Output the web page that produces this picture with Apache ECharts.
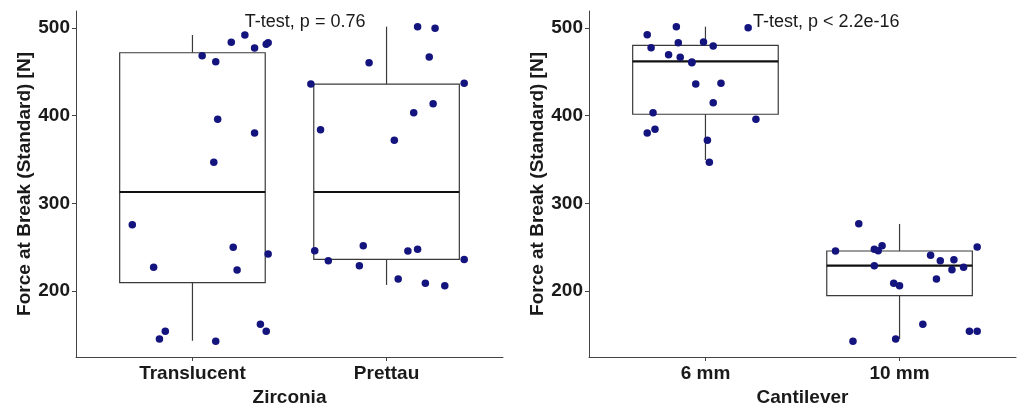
<!DOCTYPE html>
<html>
<head>
<meta charset="utf-8">
<script src="https://cdn.jsdelivr.net/npm/echarts@6/dist/echarts.min.js"></script>
<style>
html,body{margin:0;padding:0;background:#fff;}
#main{width:1018px;height:405px;}
</style>
</head>
<body>
<div id="main"></div>
<script>
// groups of each panel
var zirconiaCats = ['Translucent', 'Prettau'];
var cantileverCats = ['6 mm', '10 mm'];

// box stats: [lower whisker, Q1, median, Q3, upper whisker]
var translucentBox = [143.2, 209.5, 312.9, 471.8, 492];
var prettauBox = [206.9, 236, 312.9, 436, 501.5];
var mm6Box = [349.4, 401.6, 462, 480.3, 501.5];
var mm10Box = [145.3, 194.6, 228.9, 245.6, 276.5];

// raw points (force) with the horizontal jitter seen in the picture
var translucentVals = [468.4, 461.6, 483.7, 492, 477.2, 481.4, 483.3, 395.9, 380.2, 346.8, 275.6, 249.8, 227, 224, 242.2, 145.3, 154, 142.6, 162, 154];
var translucentJit = [0.05, 0.12, 0.20, 0.27, 0.32, 0.38, 0.39, 0.13, 0.32, 0.11, -0.31, 0.21, -0.20, 0.23, 0.39, -0.17, -0.14, 0.12, 0.35, 0.38];
var prettauVals = [501.5, 499.6, 460.4, 467, 437, 413.7, 403.4, 371.9, 251.7, 245.6, 247.5, 236, 228.9, 213.7, 208.8, 206.1, 436.1, 383.9, 246, 234.6];
var prettauJit = [0.16, 0.25, -0.09, 0.22, 0.40, 0.24, 0.14, 0.04, -0.12, 0.11, 0.16, 0.40, -0.14, 0.06, 0.20, 0.30, -0.39, -0.34, -0.37, -0.30];
var mm6Vals = [492.4, 501.5, 477.5, 483.2, 484, 479.5, 469.6, 466.6, 461.2, 460.4, 436.1, 436.9, 414.8, 403.4, 380.2, 384.4, 371.9, 346.8, 395.9, 500.3];
var mm6Jit = [-0.30, -0.15, -0.28, -0.14, -0.01, 0.04, -0.19, -0.13, -0.07, -0.07, -0.05, 0.08, 0.04, -0.27, -0.30, -0.26, 0.01, 0.02, 0.26, 0.22];
var mm10Vals = [276.8, 245.6, 247.5, 246, 251.7, 228.9, 240.7, 234.6, 235.7, 224.3, 227, 250.1, 213.7, 208.8, 206.1, 162, 154, 154, 142.6, 145.3];
var mm10Jit = [-0.21, -0.33, -0.13, -0.11, -0.09, -0.13, 0.16, 0.21, 0.28, 0.27, 0.33, 0.40, 0.19, -0.03, 0.00, 0.12, 0.36, 0.40, -0.24, -0.02];

var yTicks = [200, 300, 400, 500];
var testLabels = ['T-test, p = 0.76', 'T-test, p < 2.2e-16'];

var FONT = 'Liberation Sans, Arial, sans-serif';

function pts(vals, jit, pos) {
    return vals.map(function (v, i) { return [pos + jit[i], v]; });
}

function renderBox(params, api) {
    var x = api.value(0), lo = api.value(1), q1 = api.value(2), med = api.value(3), q3 = api.value(4), hi = api.value(5);
    var hw = 0.375;
    var tl = api.coord([x - hw, q3]), br = api.coord([x + hw, q1]);
    var m1 = api.coord([x - hw, med]), m2 = api.coord([x + hw, med]);
    var top = api.coord([x, hi]), bot = api.coord([x, lo]);
    var st = { stroke: '#3a3a3a', lineWidth: 1.2, fill: null };
    return {
        type: 'group',
        children: [
            { type: 'line', shape: { x1: top[0], y1: top[1], x2: top[0], y2: tl[1] }, style: st },
            { type: 'line', shape: { x1: bot[0], y1: bot[1], x2: bot[0], y2: br[1] }, style: st },
            { type: 'rect', shape: { x: tl[0], y: tl[1], width: br[0] - tl[0], height: br[1] - tl[1] }, style: st },
            { type: 'line', shape: { x1: m1[0], y1: m1[1], x2: m2[0], y2: m2[1] }, style: { stroke: '#111', lineWidth: 2.2 } }
        ]
    };
}

function xAxisFor(idx, cats, title) {
    return {
        type: 'value', gridIndex: idx, min: 0.4, max: 2.6,
        name: title, nameLocation: 'middle', nameGap: 27,
        nameTextStyle: { fontFamily: FONT, fontWeight: 'bold', fontSize: 19, color: '#1a1a1a' },
        axisLine: { show: true, onZero: false, lineStyle: { color: '#444', width: 1 } },
        axisTick: { show: true, length: 4, customValues: [1, 2], lineStyle: { color: '#444' } },
        axisLabel: {
            customValues: [1, 2], margin: 7,
            fontFamily: FONT, fontWeight: 'bold', fontSize: 19, color: '#1a1a1a',
            formatter: function (v) { return cats[Math.round(v) - 1]; }
        },
        splitLine: { show: false }
    };
}

function yAxisFor(idx) {
    return {
        type: 'value', gridIndex: idx, min: 124.7, max: 519.4,
        name: 'Force at Break (Standard) [N]', nameLocation: 'middle', nameGap: 40,
        nameTextStyle: { fontFamily: FONT, fontWeight: 'bold', fontSize: 19, color: '#1a1a1a' },
        axisLine: { show: true, lineStyle: { color: '#444', width: 1 } },
        axisTick: { show: true, length: 4, customValues: yTicks, lineStyle: { color: '#444' } },
        axisLabel: { customValues: yTicks, margin: 6, fontFamily: FONT, fontWeight: 'bold', fontSize: 19, color: '#1a1a1a' },
        splitLine: { show: false }
    };
}

function pointSeries(idx, data) {
    return {
        type: 'scatter', xAxisIndex: idx, yAxisIndex: idx, data: data,
        symbolSize: 7.5, itemStyle: { color: '#14147f', opacity: 1 }, z: 5, silent: true
    };
}

function testLabel(idx, pos, text) {
    return {
        type: 'scatter', xAxisIndex: idx, yAxisIndex: idx, symbolSize: 0, silent: true,
        data: [pos],
        label: { show: true, position: 'right', distance: 0, formatter: text,
            fontFamily: FONT, fontSize: 18, color: '#1a1a1a', opacity: 1 }
    };
}

var chart = echarts.init(document.getElementById('main'));
chart.setOption({
    animation: false,
    backgroundColor: '#fff',
    grid: [
        { left: 76, top: 11, width: 427, height: 346, outerBoundsMode: 'none', containLabel: false },
        { left: 589, top: 11, width: 427, height: 346, outerBoundsMode: 'none', containLabel: false }
    ],
    xAxis: [xAxisFor(0, zirconiaCats, 'Zirconia'), xAxisFor(1, cantileverCats, 'Cantilever')],
    yAxis: [yAxisFor(0), yAxisFor(1)],
    series: [
        {
            type: 'custom', xAxisIndex: 0, yAxisIndex: 0, renderItem: renderBox, silent: true,
            encode: { x: 0, y: [1, 2, 3, 4, 5] },
            data: [[1].concat(translucentBox), [2].concat(prettauBox)]
        },
        {
            type: 'custom', xAxisIndex: 1, yAxisIndex: 1, renderItem: renderBox, silent: true,
            encode: { x: 0, y: [1, 2, 3, 4, 5] },
            data: [[1].concat(mm6Box), [2].concat(mm10Box)]
        },
        pointSeries(0, pts(translucentVals, translucentJit, 1).concat(pts(prettauVals, prettauJit, 2))),
        pointSeries(1, pts(mm6Vals, mm6Jit, 1).concat(pts(mm10Vals, mm10Jit, 2))),
        testLabel(0, [1.27, 507], testLabels[0]),
        testLabel(1, [1.245, 507], testLabels[1])
    ]
});
</script>
</body>
</html>
